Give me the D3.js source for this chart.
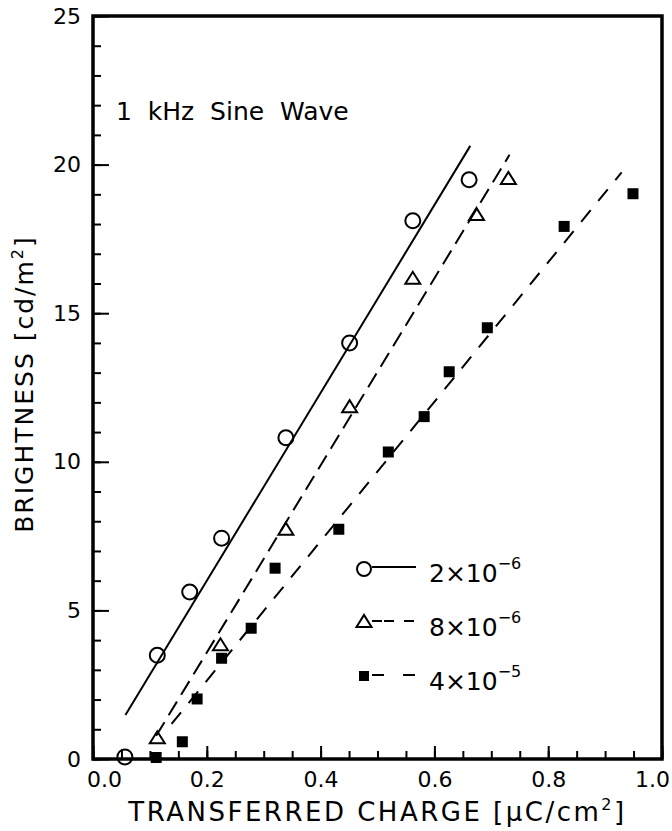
<!DOCTYPE html>
<html>
<head>
<meta charset="utf-8">
<script src="https://cdnjs.cloudflare.com/ajax/libs/d3/7.8.5/d3.min.js"></script>
<style>
body { margin: 0; background: #fff; }
text { font-family: "DejaVu Sans", sans-serif; fill: #000; }
</style>
</head>
<body>
<div id="chart"></div>
<script>
// values
var circX = [0.056, 0.113, 0.170, 0.226, 0.339, 0.451, 0.562, 0.661];
var circY = [0.07, 3.49, 5.62, 7.43, 10.81, 14.0, 18.11, 19.49];

var triX = [0.113, 0.224, 0.339, 0.451, 0.562, 0.674, 0.730];
var triY = [0.73, 3.86, 7.75, 11.87, 16.19, 18.34, 19.55];

var sqX = [0.111, 0.157, 0.183, 0.226, 0.278, 0.320, 0.432, 0.519, 0.582, 0.626, 0.693, 0.828, 0.949];
var sqY = [0.05, 0.58, 2.02, 3.39, 4.40, 6.42, 7.73, 10.33, 11.52, 13.03, 14.51, 17.92, 19.02];

// fitted lines (end points)
var fitCircX = [0.057, 0.663], fitCircY = [1.48, 20.63];
var fitTriX = [0.111, 0.732], fitTriY = [0.78, 20.33];
var fitSqX = [0.138, 0.929], fitSqY = [1.18, 19.74];

var legendBase = ["2×10", "8×10", "4×10"];
var legendExp = ["−6", "−6", "−5"];

var xTicks = [0, 0.2, 0.4, 0.6, 0.8, 1.0];
var yTicks = [0, 5, 10, 15, 20, 25];

var margin = {top: 16, right: 10, bottom: 72, left: 93};
var W = 672, H = 831;
var width = W - margin.left - margin.right;
var height = H - margin.top - margin.bottom;

var svg = d3.select("#chart").append("svg")
	.attr("width", W)
	.attr("height", H)
	.append("g")
	.attr("transform", "translate(" + margin.left + "," + margin.top + ")");

var x = d3.scaleLinear().domain([0, 1]).range([0, width]);
var y = d3.scaleLinear().domain([0, 25]).range([height, 0]);

// minor ticks
svg.append("g")
	.attr("transform", "translate(0," + height + ")")
	.call(d3.axisBottom(x).tickValues(d3.range(0, 1.001, 0.05)).tickSize(-8).tickSizeOuter(0).tickFormat(""))
	.call(g => g.select(".domain").remove());
svg.append("g")
	.call(d3.axisLeft(y).tickValues(d3.range(0, 25.5, 1)).tickSize(-8).tickSizeOuter(0).tickFormat(""))
	.call(g => g.select(".domain").remove());

// major ticks + labels
var xAxis = svg.append("g")
	.attr("class", "x axis")
	.attr("transform", "translate(0," + height + ")")
	.call(d3.axisBottom(x).tickValues(xTicks).tickSize(-13).tickSizeOuter(0).tickPadding(12).tickFormat(d3.format(".1f")));
xAxis.select(".domain").remove();
xAxis.selectAll("text").style("font-size", "22px")
	.attr("dx", function(d, i) { return i == 0 ? 11 : (i == xTicks.length - 1 ? -10 : 0); });

var yAxis = svg.append("g")
	.attr("class", "y axis")
	.call(d3.axisLeft(y).tickValues(yTicks).tickSize(-16).tickSizeOuter(0).tickPadding(12));
yAxis.select(".domain").remove();
yAxis.selectAll("text").style("font-size", "22px");

svg.selectAll(".tick line").attr("stroke", "#000").attr("stroke-width", 2);

// frame
svg.append("rect")
	.attr("width", width)
	.attr("height", height)
	.attr("fill", "none")
	.attr("stroke", "#000")
	.attr("stroke-width", 3.5);

// fit lines
var line = d3.line().x(d => x(d[0])).y(d => y(d[1]));
function fit(xs, ys, dash) {
	svg.append("path")
		.datum(xs.map((v, i) => [v, ys[i]]))
		.attr("d", line)
		.attr("fill", "none")
		.attr("stroke", "#000")
		.attr("stroke-width", 2)
		.attr("stroke-dasharray", dash);
}
fit(fitCircX, fitCircY, null);
fit(fitTriX, fitTriY, "16,8");
fit(fitSqX, fitSqY, "15,12");

// markers
svg.selectAll(".circ")
	.data(circX.map((v, i) => [v, circY[i]]))
	.enter().append("circle")
	.attr("class", "circ")
	.attr("cx", d => x(d[0]))
	.attr("cy", d => y(d[1]))
	.attr("r", 7.5)
	.attr("fill", "none")
	.attr("stroke", "#000")
	.attr("stroke-width", 2);

function triPath(cx, cy) {
	return "M" + (cx - 7.5) + "," + (cy + 6) + "L" + cx + "," + (cy - 6) + "L" + (cx + 7.5) + "," + (cy + 6) + "Z";
}
svg.selectAll(".tri")
	.data(triX.map((v, i) => [v, triY[i]]))
	.enter().append("path")
	.attr("class", "tri")
	.attr("d", d => triPath(x(d[0]), y(d[1])))
	.attr("fill", "none")
	.attr("stroke", "#000")
	.attr("stroke-width", 2);

svg.selectAll(".sq")
	.data(sqX.map((v, i) => [v, sqY[i]]))
	.enter().append("rect")
	.attr("class", "sq")
	.attr("x", d => x(d[0]) - 5.5)
	.attr("y", d => y(d[1]) - 5.5)
	.attr("width", 11)
	.attr("height", 11)
	.attr("fill", "#000");

// annotation
svg.append("text")
	.attr("x", 23)
	.attr("y", 104)
	.style("font-size", "25px")
	.style("white-space", "pre")
	.text("1  kHz  Sine  Wave");

// legend
var legend = svg.append("g").attr("transform", "translate(" + (364 - margin.left) + "," + (582 - margin.top) + ")");
var legendDash = [null, "10,2,10,10", "12,19"];
legendBase.forEach(function(lbl, i) {
	var g = legend.append("g").attr("transform", "translate(0," + (i * 54) + ")");
	if (i == 0) {
		g.append("circle").attr("cx", 0).attr("cy", -13).attr("r", 7)
			.attr("fill", "none").attr("stroke", "#000").attr("stroke-width", 2);
	} else if (i == 1) {
		g.append("path").attr("d", triPath(0, -15)).attr("fill", "none").attr("stroke", "#000").attr("stroke-width", 2);
	} else {
		g.append("rect").attr("x", -5).attr("y", -19).attr("width", 10).attr("height", 10).attr("fill", "#000");
	}
	g.append("line").attr("x1", 8).attr("x2", 52).attr("y1", -15).attr("y2", -15)
		.attr("stroke", "#000").attr("stroke-width", 2).attr("stroke-dasharray", legendDash[i]);
	var t = g.append("text").attr("x", 65).attr("y", 0).style("font-size", "25px");
	t.append("tspan").text(lbl);
	t.append("tspan").attr("dy", -13).style("font-size", "16px").text(legendExp[i]);
});

// axis titles
var xt = svg.append("text")
	.attr("x", width / 2)
	.attr("y", height + 62)
	.attr("text-anchor", "middle")
	.style("font-size", "26px")
	.style("letter-spacing", "2.5px");
xt.append("tspan").text("TRANSFERRED CHARGE [μC/cm");
xt.append("tspan").attr("dy", -11).style("font-size", "16px").text("2");
xt.append("tspan").attr("dy", 11).text("]");

var yt = svg.append("text")
	.attr("transform", "translate(" + (33 - margin.left) + "," + (384 - margin.top) + ") rotate(-90)")
	.attr("text-anchor", "middle")
	.style("font-size", "25px")
	.style("letter-spacing", "2px");
yt.append("tspan").text("BRIGHTNESS [cd/m");
yt.append("tspan").attr("dy", -10).style("font-size", "16px").text("2");
yt.append("tspan").attr("dy", 10).text("]");
</script>
</body>
</html>
